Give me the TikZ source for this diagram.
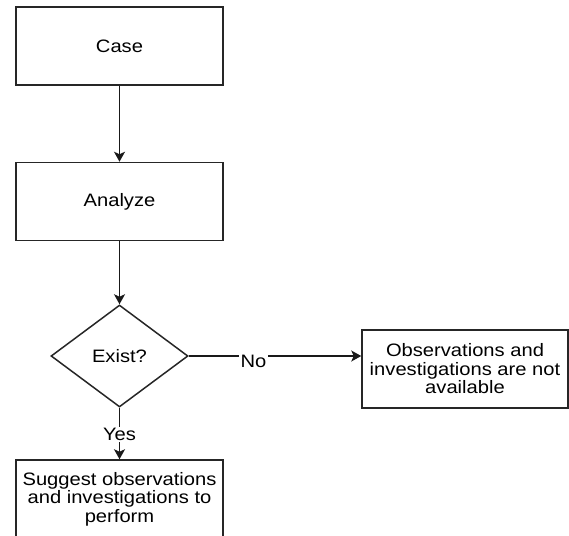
\documentclass[tikz,border=0pt]{standalone}
\usepackage{fontspec}
\setmainfont{Liberation Sans}[FakeStretch=1.12]
\usetikzlibrary{shapes.geometric,arrows.meta}
\begin{document}
\begin{tikzpicture}[x=1pt,y=-1pt,
  txt/.style={font=\fontsize{18}{18.5}\selectfont},
  box/.style={txt,draw=black!85,line width=1.5pt,minimum width=207pt,minimum height=78pt,inner sep=0pt,align=center},
  dec/.style={draw=black!85,line width=1.5pt,diamond,minimum width=137pt,minimum height=102pt,inner sep=0pt,aspect=1.34},
  lab/.style={txt,fill=white,inner sep=1.5pt},
  conn/.style={line width=1.5pt,draw=black!90,-{Stealth[length=10pt,width=11pt,inset=2.5pt]}}]
\path[use as bounding box] (0,0) rectangle (569,535);
\clip (0,0) rectangle (569,535);
\node[box] (case) at (119.5,46) {Case};
\node[box] (an) at (119.5,201.5) {Analyze};
\node[dec] (ex) at (119.5,356) {};
\node[txt] (extxt) at (ex.center) {Exist?};
\node[box,minimum width=206pt] (na) at (465,369) {Observations and\\investigations are not\\available};
\node[box] (sug) at (119.5,499) {Suggest observations\\and investigations to\\perform};
\draw[conn] (case) -- (an);
\draw[conn] (an) -- (ex.north);
\draw[conn] (ex.east) -- node[lab,pos=0.375,yshift=-5pt] {No} (ex.east -| na.west);
\draw[conn] (ex.south) -- node[lab,pos=0.52] {Yes} (sug.north);
\end{tikzpicture}
\end{document}
